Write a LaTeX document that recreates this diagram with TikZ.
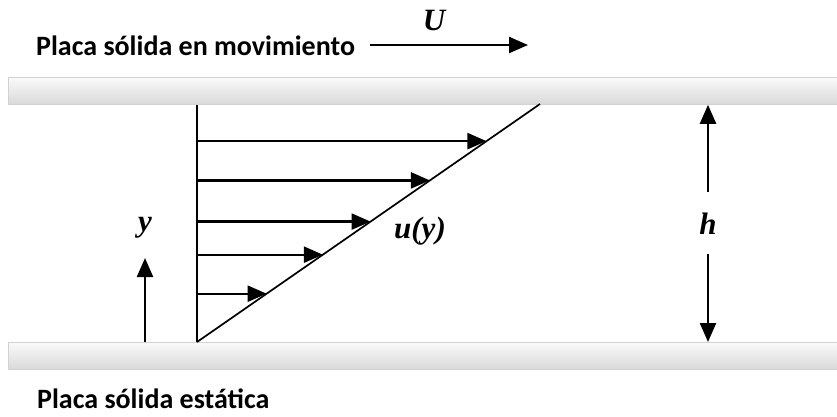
\documentclass[tikz,border=0pt]{standalone}
\usepackage{fontspec}
\setmainfont{Liberation Serif}
\newfontfamily\calibri{Carlito}
\usetikzlibrary{positioning,arrows.meta,calc}

\begin{document}
\begin{tikzpicture}[
  x=1pt, y=-1pt, >={Triangle[length=19pt,width=16pt]},
  plate/.style={draw=gray!35, line width=0.8pt, top color=gray!4, bottom color=gray!30,
    minimum width=835pt, minimum height=27pt, inner sep=0pt, anchor=north west},
  vel/.style={->, line width=2.3pt},
  prof/.style={line width=1.7pt},
  lbl/.style={font=\calibri\bfseries\fontsize{28}{32}\selectfont, inner sep=0pt, anchor=west},
  sym/.style={font=\bfseries\itshape\fontsize{31}{35}\selectfont, inner sep=0pt},
]
  \useasboundingbox (0,0) rectangle (837,416);
  % plates
  \node[plate] (top) at (8,77) {};
  \node[plate] (bot) at (8,342) {};
  \node[lbl] (mov) at (36,46) {Placa sólida en movimiento};
  \node[lbl] (est) at (37,399) {Placa sólida estática};
  % plate velocity
  \coordinate (u0) at (370,45);
  \coordinate (u1) at (528,45);
  \draw[vel] (u0) -- (u1);
  \node[sym] (ulab) at (434,20) {U};
  % velocity profile
  \coordinate (o) at (197,342);
  \coordinate (p) at (540,104);
  \draw[line width=2.3pt] (o) -- (o |- top.south);
  \draw[prof] (o) -- (p);
  \foreach \f [count=\i] in {0.203,0.367,0.506,0.679,0.844}{
    \coordinate (t\i) at ($(o)!\f!(p)$);
    \draw[vel] (o |- t\i) -- (t\i);
  }
  \node[sym] (uy) at (420,231) {u(y)};
  % y axis
  \node[sym] (ylab) at (145,228) {y};
  \coordinate (y0) at (145,342);
  \coordinate (y1) at (145,258);
  \draw[vel] (y0) -- (y1);
  % gap height
  \node[sym] (hlab) at (708,224) {h};
  \coordinate (h1) at (708,192);
  \coordinate (h2) at (708,254);
  \draw[vel] (h1) -- (hlab |- top.south);
  \draw[vel] (h2) -- (hlab |- bot.north);
\end{tikzpicture}
\end{document}
